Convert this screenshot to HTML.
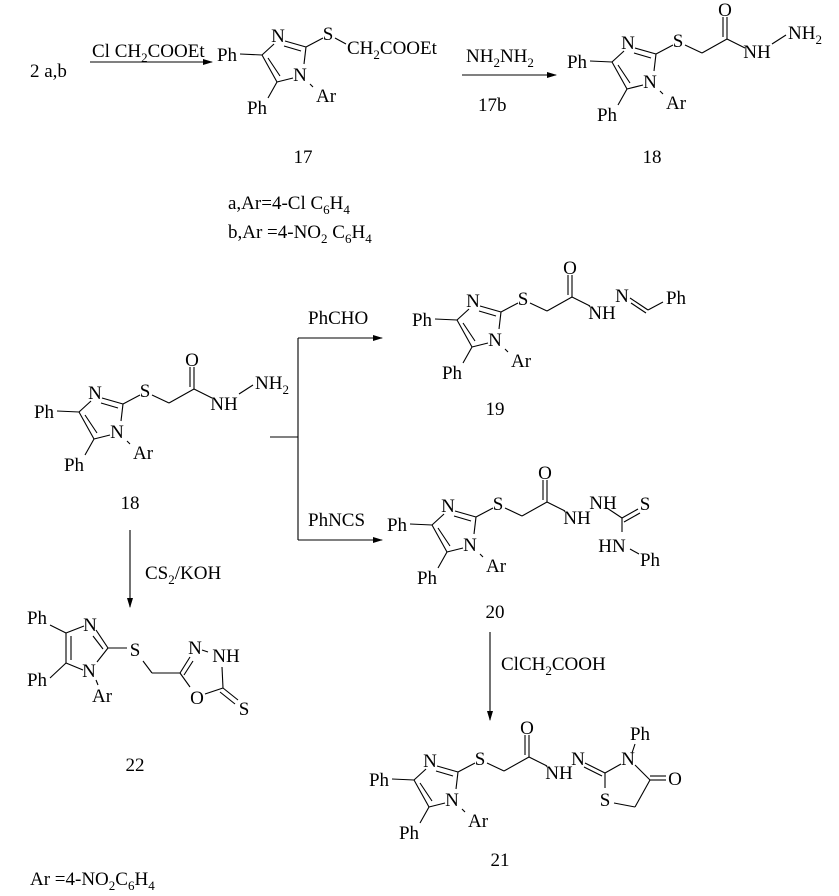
<!DOCTYPE html>
<html><head><style>
html,body{margin:0;padding:0;background:#fff}
svg{display:block}
text{font-family:"Liberation Serif",serif;font-size:19px;fill:#000}
line{stroke:#000;stroke-width:1.1}
</style></head><body>
<svg width="839" height="896" viewBox="0 0 839 896" xmlns="http://www.w3.org/2000/svg">
<defs><marker id="a" markerWidth="10" markerHeight="8" refX="9" refY="4" orient="auto" markerUnits="userSpaceOnUse"><path d="M0,1 L10,4 L0,7 Z" fill="#000"/></marker></defs>

<!-- 17 -->
<g>
<line x1="240" y1="54" x2="262" y2="55"/><line x1="262" y1="55" x2="274" y2="44"/>
<line x1="285" y1="41" x2="306" y2="47"/><line x1="284" y1="46" x2="301" y2="51"/>
<line x1="306" y1="47" x2="304" y2="64"/><line x1="293" y1="78" x2="277" y2="82"/>
<line x1="277" y1="82" x2="262" y2="55"/><line x1="280" y1="76" x2="268" y2="58"/>
<line x1="277" y1="82" x2="268" y2="98"/><line x1="310" y1="84" x2="313" y2="87"/>
<line x1="306" y1="47" x2="323" y2="38"/>
<text x="227" y="61" text-anchor="middle">Ph</text><text x="278" y="42" text-anchor="middle">N</text>
<text x="300" y="81" text-anchor="middle">N</text><text x="257" y="114" text-anchor="middle">Ph</text>
<text x="326" y="102" text-anchor="middle">Ar</text><text x="328" y="40" text-anchor="middle">S</text>
<line x1="335" y1="38" x2="346" y2="44"/>
<text x="347" y="54">CH<tspan font-size="13" dy="5">2</tspan><tspan dy="-5">COOEt</tspan></text>
</g>

<text x="30" y="77">2 a,b</text>
<line x1="90" y1="62" x2="212" y2="62" marker-end="url(#a)"/>
<text x="92" y="57">Cl CH<tspan font-size="13" dy="5">2</tspan><tspan dy="-5">COOEt</tspan></text>
<line x1="462" y1="75" x2="556" y2="75" marker-end="url(#a)"/>
<text x="466" y="62">NH<tspan font-size="13" dy="5">2</tspan><tspan dy="-5">NH</tspan><tspan font-size="13" dy="5">2</tspan></text>
<text x="478" y="111">17b</text>
<text x="303" y="163" text-anchor="middle">17</text>
<text x="652" y="163" text-anchor="middle">18</text>
<text x="228" y="209">a,Ar=4-Cl C<tspan font-size="13" dy="5">6</tspan><tspan dy="-5">H</tspan><tspan font-size="13" dy="5">4</tspan></text>
<text x="228" y="238">b,Ar =4-NO<tspan font-size="13" dy="5">2</tspan><tspan dy="-5"> C</tspan><tspan font-size="13" dy="5">6</tspan><tspan dy="-5">H</tspan><tspan font-size="13" dy="5">4</tspan></text>

<!-- 18 top -->
<g transform="translate(350,7)">
<line x1="240" y1="54" x2="262" y2="55"/><line x1="262" y1="55" x2="274" y2="44"/>
<line x1="285" y1="41" x2="306" y2="47"/><line x1="284" y1="46" x2="301" y2="51"/>
<line x1="306" y1="47" x2="304" y2="64"/><line x1="293" y1="78" x2="277" y2="82"/>
<line x1="277" y1="82" x2="262" y2="55"/><line x1="280" y1="76" x2="268" y2="58"/>
<line x1="277" y1="82" x2="268" y2="98"/><line x1="310" y1="84" x2="313" y2="87"/>
<line x1="306" y1="47" x2="323" y2="38"/>
<text x="227" y="61" text-anchor="middle">Ph</text><text x="278" y="42" text-anchor="middle">N</text>
<text x="300" y="81" text-anchor="middle">N</text><text x="257" y="114" text-anchor="middle">Ph</text>
<text x="326" y="102" text-anchor="middle">Ar</text><text x="328" y="40" text-anchor="middle">S</text>
<line x1="335" y1="38" x2="352" y2="46"/><line x1="352" y1="46" x2="377" y2="32"/>
<line x1="377" y1="32" x2="377" y2="10"/><line x1="373" y1="30" x2="373" y2="10"/>
<text x="375" y="9" text-anchor="middle">O</text>
<line x1="377" y1="32" x2="395" y2="41"/>
<text x="407" y="51" text-anchor="middle">NH</text>
<line x1="422" y1="37" x2="436" y2="28"/>
<text x="438" y="32">NH<tspan font-size="13" dy="5">2</tspan></text>
</g>

<!-- 18 mid -->
<g transform="translate(-183,357)">
<line x1="240" y1="54" x2="262" y2="55"/><line x1="262" y1="55" x2="274" y2="44"/>
<line x1="285" y1="41" x2="306" y2="47"/><line x1="284" y1="46" x2="301" y2="51"/>
<line x1="306" y1="47" x2="304" y2="64"/><line x1="293" y1="78" x2="277" y2="82"/>
<line x1="277" y1="82" x2="262" y2="55"/><line x1="280" y1="76" x2="268" y2="58"/>
<line x1="277" y1="82" x2="268" y2="98"/><line x1="310" y1="84" x2="313" y2="87"/>
<line x1="306" y1="47" x2="323" y2="38"/>
<text x="227" y="61" text-anchor="middle">Ph</text><text x="278" y="42" text-anchor="middle">N</text>
<text x="300" y="81" text-anchor="middle">N</text><text x="257" y="114" text-anchor="middle">Ph</text>
<text x="326" y="102" text-anchor="middle">Ar</text><text x="328" y="40" text-anchor="middle">S</text>
<line x1="335" y1="38" x2="352" y2="46"/><line x1="352" y1="46" x2="377" y2="32"/>
<line x1="377" y1="32" x2="377" y2="10"/><line x1="373" y1="30" x2="373" y2="10"/>
<text x="375" y="9" text-anchor="middle">O</text>
<line x1="377" y1="32" x2="395" y2="41"/>
<text x="407" y="53" text-anchor="middle">NH</text>
<line x1="422" y1="37" x2="436" y2="28"/>
<text x="438" y="32">NH<tspan font-size="13" dy="5">2</tspan></text>
</g>
<text x="130" y="509" text-anchor="middle">18</text>

<!-- branch -->
<line x1="270" y1="437" x2="298" y2="437"/>
<line x1="298" y1="338" x2="298" y2="540"/>
<line x1="298" y1="338" x2="382" y2="338" marker-end="url(#a)"/>
<line x1="298" y1="540" x2="382" y2="540" marker-end="url(#a)"/>
<text x="308" y="324">PhCHO</text>
<text x="308" y="526">PhNCS</text>

<!-- 19 -->
<g transform="translate(195,265)">
<line x1="240" y1="54" x2="262" y2="55"/><line x1="262" y1="55" x2="274" y2="44"/>
<line x1="285" y1="41" x2="306" y2="47"/><line x1="284" y1="46" x2="301" y2="51"/>
<line x1="306" y1="47" x2="304" y2="64"/><line x1="293" y1="78" x2="277" y2="82"/>
<line x1="277" y1="82" x2="262" y2="55"/><line x1="280" y1="76" x2="268" y2="58"/>
<line x1="277" y1="82" x2="268" y2="98"/><line x1="310" y1="84" x2="313" y2="87"/>
<line x1="306" y1="47" x2="323" y2="38"/>
<text x="227" y="61" text-anchor="middle">Ph</text><text x="278" y="42" text-anchor="middle">N</text>
<text x="300" y="81" text-anchor="middle">N</text><text x="257" y="114" text-anchor="middle">Ph</text>
<text x="326" y="102" text-anchor="middle">Ar</text><text x="328" y="40" text-anchor="middle">S</text>
<line x1="335" y1="38" x2="352" y2="46"/><line x1="352" y1="46" x2="377" y2="32"/>
<line x1="377" y1="32" x2="377" y2="10"/><line x1="373" y1="30" x2="373" y2="10"/>
<text x="375" y="9" text-anchor="middle">O</text>
<line x1="377" y1="32" x2="395" y2="41"/>
<text x="407" y="54" text-anchor="middle">NH</text>
<text x="427" y="37" text-anchor="middle">N</text>
<line x1="435" y1="33" x2="453" y2="45"/><line x1="436" y1="38" x2="451" y2="48"/>
<line x1="453" y1="45" x2="468" y2="37"/>
<text x="481" y="39" text-anchor="middle">Ph</text>
</g>
<text x="495" y="415" text-anchor="middle">19</text>

<!-- 20 -->
<g transform="translate(170,470)">
<line x1="240" y1="54" x2="262" y2="55"/><line x1="262" y1="55" x2="274" y2="44"/>
<line x1="285" y1="41" x2="306" y2="47"/><line x1="284" y1="46" x2="301" y2="51"/>
<line x1="306" y1="47" x2="304" y2="64"/><line x1="293" y1="78" x2="277" y2="82"/>
<line x1="277" y1="82" x2="262" y2="55"/><line x1="280" y1="76" x2="268" y2="58"/>
<line x1="277" y1="82" x2="268" y2="98"/><line x1="310" y1="84" x2="313" y2="87"/>
<line x1="306" y1="47" x2="323" y2="38"/>
<text x="227" y="61" text-anchor="middle">Ph</text><text x="278" y="42" text-anchor="middle">N</text>
<text x="300" y="81" text-anchor="middle">N</text><text x="257" y="114" text-anchor="middle">Ph</text>
<text x="326" y="102" text-anchor="middle">Ar</text><text x="328" y="40" text-anchor="middle">S</text>
<line x1="335" y1="38" x2="352" y2="46"/><line x1="352" y1="46" x2="377" y2="32"/>
<line x1="377" y1="32" x2="377" y2="10"/><line x1="373" y1="30" x2="373" y2="10"/>
<text x="375" y="9" text-anchor="middle">O</text>
<line x1="377" y1="32" x2="395" y2="41"/>
<text x="407" y="54" text-anchor="middle">NH</text>
<text x="433" y="39" text-anchor="middle">NH</text>
<line x1="437" y1="38" x2="452" y2="48"/>
<line x1="452" y1="48" x2="468" y2="39"/><line x1="454" y1="52" x2="470" y2="43"/>
<text x="475" y="40" text-anchor="middle">S</text>
<line x1="452" y1="48" x2="452" y2="62"/>
<text x="442" y="82" text-anchor="middle">HN</text>
<line x1="460" y1="79" x2="469" y2="84"/>
<text x="480" y="96" text-anchor="middle">Ph</text>
</g>
<text x="495" y="618" text-anchor="middle">20</text>
<line x1="490" y1="632" x2="490" y2="720" marker-end="url(#a)"/>
<text x="501" y="670">ClCH<tspan font-size="13" dy="5">2</tspan><tspan dy="-5">COOH</tspan></text>

<!-- 21 -->
<g transform="translate(152,725)">
<line x1="240" y1="54" x2="262" y2="55"/><line x1="262" y1="55" x2="274" y2="44"/>
<line x1="285" y1="41" x2="306" y2="47"/><line x1="284" y1="46" x2="301" y2="51"/>
<line x1="306" y1="47" x2="304" y2="64"/><line x1="293" y1="78" x2="277" y2="82"/>
<line x1="277" y1="82" x2="262" y2="55"/><line x1="280" y1="76" x2="268" y2="58"/>
<line x1="277" y1="82" x2="268" y2="98"/><line x1="310" y1="84" x2="313" y2="87"/>
<line x1="306" y1="47" x2="323" y2="38"/>
<text x="227" y="61" text-anchor="middle">Ph</text><text x="278" y="42" text-anchor="middle">N</text>
<text x="300" y="81" text-anchor="middle">N</text><text x="257" y="114" text-anchor="middle">Ph</text>
<text x="326" y="102" text-anchor="middle">Ar</text><text x="328" y="40" text-anchor="middle">S</text>
<line x1="335" y1="38" x2="352" y2="46"/><line x1="352" y1="46" x2="377" y2="32"/>
<line x1="377" y1="32" x2="377" y2="10"/><line x1="373" y1="30" x2="373" y2="10"/>
<text x="375" y="9" text-anchor="middle">O</text>
<line x1="377" y1="32" x2="395" y2="41"/>
<text x="407" y="54" text-anchor="middle">NH</text>
<text x="426" y="40" text-anchor="middle">N</text>
<line x1="433" y1="38" x2="453" y2="48"/><line x1="432" y1="42" x2="450" y2="51"/>
<line x1="453" y1="48" x2="469" y2="39"/>
<text x="476" y="40" text-anchor="middle">N</text>
<line x1="480" y1="28" x2="483" y2="19"/>
<text x="488" y="15" text-anchor="middle">Ph</text>
<line x1="483" y1="40" x2="498" y2="55"/>
<line x1="498" y1="55" x2="514" y2="55"/><line x1="498" y1="51" x2="514" y2="51"/>
<text x="523" y="60" text-anchor="middle">O</text>
<line x1="498" y1="55" x2="483" y2="82"/>
<line x1="483" y1="82" x2="462" y2="78"/>
<line x1="453" y1="48" x2="453" y2="63"/>
<text x="453" y="81" text-anchor="middle">S</text>
</g>
<text x="500" y="866" text-anchor="middle">21</text>

<!-- CS2 arrow -->
<line x1="130" y1="530" x2="130" y2="607" marker-end="url(#a)"/>
<text x="145" y="579">CS<tspan font-size="13" dy="5">2</tspan><tspan dy="-5">/KOH</tspan></text>

<!-- 22 -->
<g>
<text x="37" y="624" text-anchor="middle">Ph</text>
<text x="37" y="686" text-anchor="middle">Ph</text>
<line x1="50" y1="625" x2="66" y2="633"/><line x1="50" y1="678" x2="66" y2="663"/>
<line x1="66" y1="633" x2="66" y2="663"/><line x1="71" y1="636" x2="71" y2="660"/>
<line x1="66" y1="633" x2="84" y2="626"/>
<line x1="66" y1="663" x2="83" y2="670"/>
<text x="90" y="631" text-anchor="middle">N</text>
<line x1="96" y1="630" x2="108" y2="648"/><line x1="93" y1="636" x2="103" y2="649"/>
<line x1="108" y1="648" x2="97" y2="662"/>
<text x="89" y="677" text-anchor="middle">N</text>
<line x1="96" y1="680" x2="98" y2="685"/>
<text x="102" y="702" text-anchor="middle">Ar</text>
<line x1="108" y1="648" x2="127" y2="648"/>
<text x="135" y="656" text-anchor="middle">S</text>
<line x1="143" y1="661" x2="152" y2="673"/><line x1="152" y1="673" x2="180" y2="673"/>
<line x1="180" y1="673" x2="190" y2="657"/><line x1="184" y1="675" x2="193" y2="661"/>
<text x="195" y="654" text-anchor="middle">N</text>
<line x1="202" y1="650" x2="208" y2="652"/>
<text x="226" y="662" text-anchor="middle">NH</text>
<line x1="222" y1="667" x2="223" y2="688"/>
<line x1="180" y1="673" x2="190" y2="687"/>
<text x="197" y="704" text-anchor="middle">O</text>
<line x1="205" y1="694" x2="223" y2="688"/>
<line x1="223" y1="688" x2="238" y2="700"/><line x1="220" y1="692" x2="235" y2="704"/>
<text x="244" y="715" text-anchor="middle">S</text>
</g>
<text x="135" y="771" text-anchor="middle">22</text>
<text x="30" y="885">Ar =4-NO<tspan font-size="13" dy="5">2</tspan><tspan dy="-5">C</tspan><tspan font-size="13" dy="5">6</tspan><tspan dy="-5">H</tspan><tspan font-size="13" dy="5">4</tspan></text>
</svg>
</body></html>
